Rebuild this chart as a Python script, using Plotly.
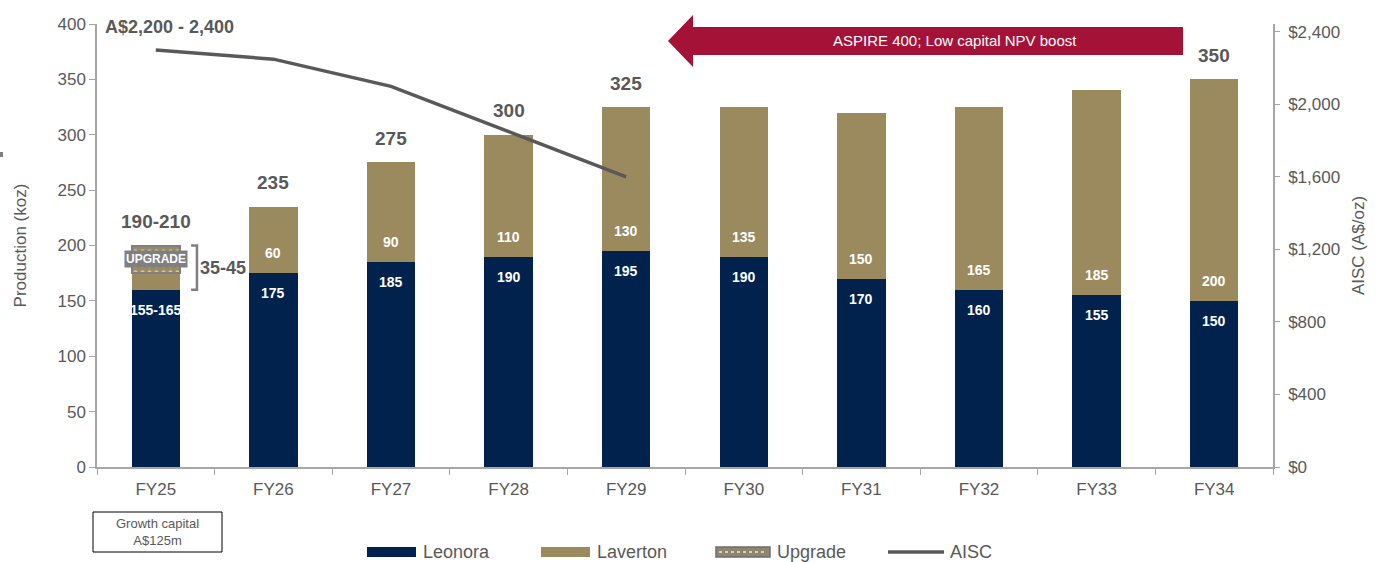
import plotly.graph_objects as go

categories = ["FY25", "FY26", "FY27", "FY28", "FY29", "FY30", "FY31", "FY32", "FY33", "FY34"]
leonora = [160, 175, 185, 190, 195, 190, 170, 160, 155, 150]
laverton = [15, 60, 90, 110, 130, 135, 150, 165, 185, 200]
upgrade = [25, 0, 0, 0, 0, 0, 0, 0, 0, 0]
leonora_labels = ["155-165", "175", "185", "190", "195", "190", "170", "160", "155", "150"]
laverton_labels = ["", "60", "90", "110", "130", "135", "150", "165", "185", "200"]
total_labels = ["190-210", "235", "275", "300", "325", "", "", "", "", "350"]
aisc_cats = ["FY25", "FY26", "FY27", "FY28", "FY29"]
aisc = [2300, 2250, 2100, 1850, 1600]

NAVY = "#00224D"
TAN = "#9C8A5F"
GREY = "#595959"
AXIS = "#A6A6A6"
CRIMSON = "#A51237"
FONT = "Liberation Sans Narrow, Arial Narrow, Liberation Sans, Arial"

W, H = 1377, 562
L, R, T, B = 97, 104, 24, 95
PW, PH = W - L - R, H - T - B


def px(x):
    return (x - L) / PW


def py(y):
    return (H - B - y) / PH


fig = go.Figure()
fig.add_trace(go.Bar(x=categories, y=leonora, name="Leonora", marker=dict(color=NAVY, line=dict(width=0)), width=0.41))
fig.add_trace(go.Bar(x=categories, y=laverton, name="Laverton", marker=dict(color=TAN, line=dict(width=0)), width=0.41))
fig.add_trace(go.Bar(x=categories, y=[v if v else None for v in upgrade], name="Upgrade",
                     marker=dict(color=TAN, line=dict(color="#7F7F7F", width=2),
                                 pattern=dict(shape=".", fgcolor="white", bgcolor=TAN, size=7, solidity=0.3)),
                     width=0.41))
fig.add_trace(go.Scatter(x=aisc_cats, y=aisc, name="AISC", mode="lines", yaxis="y2",
                         line=dict(color=GREY, width=3.5)))

ann = []
totals = [a + b + c for a, b, c in zip(leonora, laverton, upgrade)]
for i, c in enumerate(categories):
    ann.append(dict(x=c, y=leonora[i], text=leonora_labels[i], showarrow=False, yshift=-20,
                    font=dict(family=FONT, size=14, color="white", weight="bold")))
    if laverton_labels[i]:
        ann.append(dict(x=c, y=leonora[i], text=laverton_labels[i], showarrow=False, yshift=20,
                        font=dict(family=FONT, size=14, color="white", weight="bold")))
    if total_labels[i]:
        ann.append(dict(x=c, y=totals[i], text=total_labels[i], showarrow=False, yshift=24,
                        font=dict(family=FONT, size=19, color=GREY, weight="bold")))

# UPGRADE tag
ann.append(dict(x=categories[0], y=leonora[0] + laverton[0] + upgrade[0] / 2, text="UPGRADE", showarrow=False,
                bgcolor="#7F7F7F", borderpad=1, font=dict(family=FONT, size=12, color="white", weight="bold")))
# 35-45 label
ann.append(dict(x=0.355, y=180, text="35-45", showarrow=False, xanchor="left",
                font=dict(family=FONT, size=18, color=GREY, weight="bold")))
# AISC range label
ann.append(dict(x=px(103), y=py(27), xref="paper", yref="paper", xanchor="left", yanchor="middle",
                text="A$2,200 - 2,400", showarrow=False, font=dict(family=FONT, size=18, color=GREY, weight="bold")))
# arrow text
ann.append(dict(x=px(955), y=py(41), xref="paper", yref="paper", xanchor="center", yanchor="middle",
                text="ASPIRE 400; Low capital NPV boost", showarrow=False, font=dict(family=FONT, size=15, color="white")))
# growth capital box text
ann.append(dict(x=px(157.5), y=py(532), xref="paper", yref="paper", xanchor="center", yanchor="middle",
                text="Growth capital<br>A$125m", showarrow=False, font=dict(family=FONT, size=13, color=GREY)))

shapes = []
# bracket
shapes.append(dict(type="path", xref="x", yref="y", path="M 0.30,200 L 0.35,200 L 0.35,160 L 0.30,160",
                   line=dict(color="#7F7F7F", width=2.5)))
# arrow
pts = [(668, 41), (693, 15), (693, 27), (1183, 27), (1183, 55), (693, 55), (693, 67)]
path = "M " + " L ".join(f"{px(x):.4f},{py(y):.4f}" for x, y in pts) + " Z"
shapes.append(dict(type="path", xref="paper", yref="paper", path=path, fillcolor=CRIMSON, line=dict(width=0)))
# growth capital box
shapes.append(dict(type="rect", xref="paper", yref="paper", x0=px(93), x1=px(222), y0=py(552), y1=py(512),
                   line=dict(color="black", width=1), fillcolor="white", layer="below"))
# stray mark at left edge
shapes.append(dict(type="rect", xref="paper", yref="paper", x0=px(0), x1=px(3), y0=py(157), y1=py(152),
                   line=dict(width=0), fillcolor="#7F7F7F"))

# custom legend
ly0, ly1 = py(557), py(547)
legend_items = [("Leonora", 367, 416, 421), ("Laverton", 541, 590, 595), ("Upgrade", 716, 770, 775), ("AISC", 888, 944, 948)]
for name, x0, x1, xt in legend_items:
    if name == "Leonora":
        shapes.append(dict(type="rect", xref="paper", yref="paper", x0=px(x0), x1=px(x1), y0=ly0, y1=ly1,
                           fillcolor=NAVY, line=dict(width=0)))
    elif name == "Laverton":
        shapes.append(dict(type="rect", xref="paper", yref="paper", x0=px(x0), x1=px(x1), y0=ly0, y1=ly1,
                           fillcolor=TAN, line=dict(width=0)))
    elif name == "Upgrade":
        shapes.append(dict(type="rect", xref="paper", yref="paper", x0=px(x0), x1=px(x1), y0=ly0, y1=ly1,
                           fillcolor="#8E8570", line=dict(color="#6E6E6E", width=1.5)))
        shapes.append(dict(type="line", xref="paper", yref="paper", x0=px(x0 + 3), x1=px(x1 - 3), y0=py(552), y1=py(552),
                           line=dict(color="#EDE6D0", width=1.5, dash="dot")))
    else:
        shapes.append(dict(type="line", xref="paper", yref="paper", x0=px(x0), x1=px(x1), y0=py(552), y1=py(552),
                           line=dict(color=GREY, width=3.5)))
    ann.append(dict(x=px(xt), y=py(552), xref="paper", yref="paper", xanchor="left", yanchor="middle", text=name,
                    showarrow=False, font=dict(family=FONT, size=18, color=GREY)))

fig.update_layout(
    width=W, height=H, barmode="stack", showlegend=False,
    margin=dict(l=L, r=R, t=T, b=B),
    plot_bgcolor="white", paper_bgcolor="white",
    font=dict(family=FONT, size=17, color=GREY),
    xaxis=dict(showline=True, linecolor=AXIS, linewidth=1.5, ticks="outside", tickson="boundaries",
               ticklen=6, tickcolor=AXIS, tickfont=dict(size=17, color=GREY), showgrid=False,
               ticklabelstandoff=6),
    yaxis=dict(range=[0, 400], dtick=50, showline=True, linecolor=AXIS, linewidth=1.5, ticks="outside",
               ticklen=6, tickcolor=AXIS, showgrid=False, zeroline=False,
               title=dict(text="Production (koz)", standoff=27, font=dict(size=17, color=GREY)),
               tickfont=dict(size=17, color=GREY)),
    yaxis2=dict(range=[0, 2444], tickvals=[0, 400, 800, 1200, 1600, 2000, 2400],
                ticktext=["$0", "$400", "$800", "$1,200", "$1,600", "$2,000", "$2,400"],
                overlaying="y", side="right", showline=True, linecolor=AXIS, linewidth=1.5,
                ticks="outside", ticklen=5, tickcolor=AXIS, showgrid=False, zeroline=False,
                ticklabelstandoff=5,
                title=dict(text="AISC (A$/oz)", standoff=13, font=dict(size=17, color=GREY)),
                tickfont=dict(size=17, color=GREY)),
    annotations=ann, shapes=shapes,
)

fig.write_html("out.html", config={"displayModeBar": False},
               post_script="document.body.style.margin='0';document.body.style.overflow='hidden';")
